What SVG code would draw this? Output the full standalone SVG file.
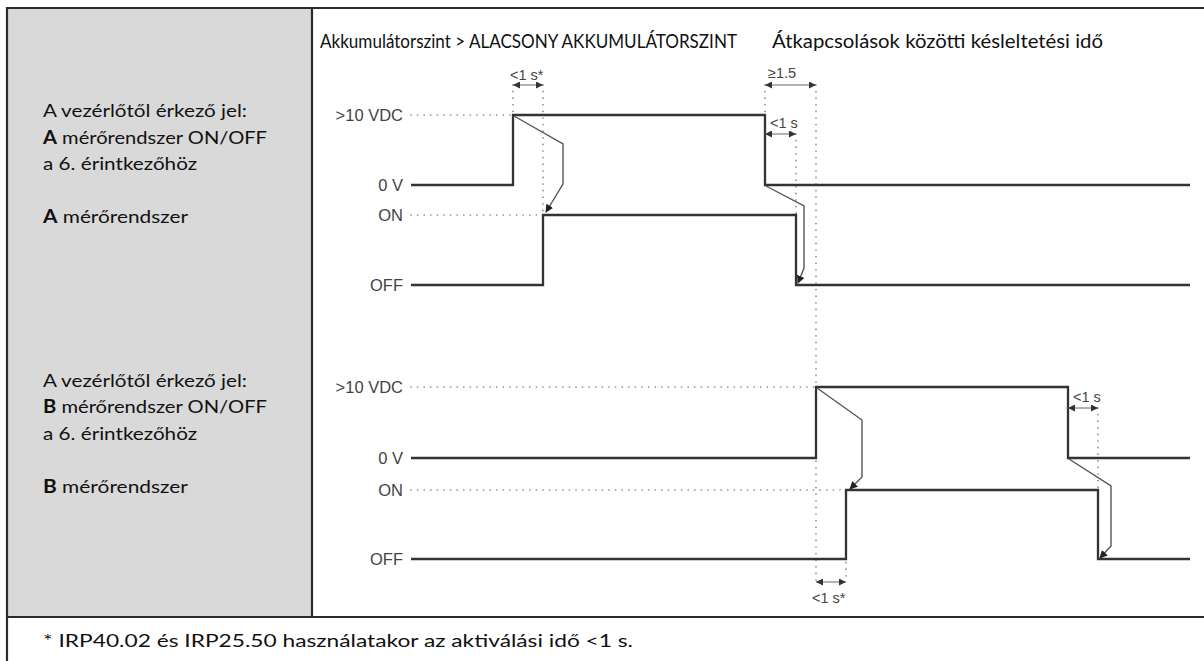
<svg xmlns="http://www.w3.org/2000/svg" width="1204" height="661" viewBox="0 0 1204 661">
<style>
.frame{stroke:#2b2b2b;stroke-width:2.2;fill:none}
.lbl{font-family:Lato,"Liberation Sans",sans-serif;font-size:18px;fill:#111}
.hdr{font-family:Lato,"Liberation Sans",sans-serif;font-size:18.5px;fill:#111}
.b{font-weight:bold}
.ax{font-family:"Liberation Sans",Arial,sans-serif;font-size:16.5px;fill:#444;text-anchor:end}
.dim{font-family:"Liberation Sans",Arial,sans-serif;font-size:14.5px;fill:#444}
.sig{stroke:#333;stroke-width:2.3;fill:none;stroke-linejoin:miter}
.dot{stroke:#888;stroke-width:1.7;stroke-dasharray:0 6.6;stroke-linecap:round;fill:none}
.cause{stroke:#555;stroke-width:1.4;fill:none;marker-end:url(#ah)}
.dimln{stroke:#666;stroke-width:1;fill:none;marker-start:url(#dh);marker-end:url(#dh)}
</style>
<defs>
<marker id="ah" viewBox="0 0 10 10" refX="9" refY="5" markerWidth="8" markerHeight="8" markerUnits="userSpaceOnUse" orient="auto"><path d="M0,0 L10,5 L0,10 z" fill="#222"/></marker>
<marker id="dh" viewBox="0 0 10 10" refX="10" refY="5" markerWidth="8" markerHeight="7" markerUnits="userSpaceOnUse" orient="auto-start-reverse"><path d="M0,0 L10,5 L0,10 z" fill="#333"/></marker>
</defs>
<rect x="0" y="0" width="1204" height="661" fill="#fff"/>
<g id="table">
<rect x="8" y="9" width="304" height="608" fill="#d9d9d9"/>
<line class="frame" x1="7" y1="8" x2="1204" y2="8"/>
<line class="frame" x1="7" y1="7" x2="7" y2="661"/>
<line class="frame" x1="312" y1="8" x2="312" y2="617"/>
<line class="frame" x1="7" y1="617" x2="1204" y2="617"/>
</g>
<g id="row-labels">
<text class="lbl" x="43" y="117" textLength="204" lengthAdjust="spacingAndGlyphs">A vezérlőtől érkező jel:</text>
<text class="lbl" x="43" y="144" textLength="224" lengthAdjust="spacingAndGlyphs"><tspan class="b">A</tspan> mérőrendszer ON/OFF</text>
<text class="lbl" x="43" y="170" textLength="154" lengthAdjust="spacingAndGlyphs">a 6. érintkezőhöz</text>
<text class="lbl" x="43" y="223" textLength="145" lengthAdjust="spacingAndGlyphs"><tspan class="b">A</tspan> mérőrendszer</text>
<text class="lbl" x="43" y="387" textLength="204" lengthAdjust="spacingAndGlyphs">A vezérlőtől érkező jel:</text>
<text class="lbl" x="43" y="413" textLength="224" lengthAdjust="spacingAndGlyphs"><tspan class="b">B</tspan> mérőrendszer ON/OFF</text>
<text class="lbl" x="43" y="440" textLength="154" lengthAdjust="spacingAndGlyphs">a 6. érintkezőhöz</text>
<text class="lbl" x="43" y="493" textLength="145" lengthAdjust="spacingAndGlyphs"><tspan class="b">B</tspan> mérőrendszer</text>
</g>
<g id="headers">
<text class="hdr" x="320" y="48" textLength="417" lengthAdjust="spacingAndGlyphs">Akkumulátorszint &gt; ALACSONY AKKUMULÁTORSZINT</text>
<text class="hdr" x="772" y="48" textLength="331" lengthAdjust="spacingAndGlyphs">Átkapcsolások közötti késleltetési idő</text>
</g>
<g id="footer">
<text class="lbl" x="43" y="647" textLength="590" lengthAdjust="spacingAndGlyphs">* IRP40.02 és IRP25.50 használatakor az aktiválási idő &lt;1 s.</text>
</g>
<g id="axis-labels">
<text class="ax" x="403" y="121">&gt;10 VDC</text>
<text class="ax" x="403" y="191">0 V</text>
<text class="ax" x="403" y="221">ON</text>
<text class="ax" x="403" y="291">OFF</text>
<text class="ax" x="403" y="393">&gt;10 VDC</text>
<text class="ax" x="403" y="464">0 V</text>
<text class="ax" x="403" y="496">ON</text>
<text class="ax" x="403" y="565">OFF</text>
</g>
<g id="guides">
<path class="dot" d="M411,115 H513"/>
<path class="dot" d="M411,215 H543"/>
<path class="dot" d="M513,85 V115"/>
<path class="dot" d="M543,85 V215"/>
<path class="dot" d="M765,85 V115"/>
<path class="dot" d="M796,134 V215"/>
<path class="dot" d="M816,85 V582"/>
<path class="dot" d="M411,387 H816"/>
<path class="dot" d="M411,490 H846"/>
<path class="dot" d="M846,490 V582"/>
<path class="dot" d="M1098,408 V490"/>
</g>
<g id="signal-A">
<polyline class="sig" points="411,185 513,185 513,115 765,115 765,185 1190,185"/>
</g>
<g id="system-A">
<polyline class="sig" points="411,285 543,285 543,215 796,215 796,285 1190,285"/>
</g>
<g id="signal-B">
<polyline class="sig" points="411,458 816,458 816,387 1068,387 1068,458 1190,458"/>
</g>
<g id="system-B">
<polyline class="sig" points="411,559 846,559 846,490 1098,490 1098,559 1190,559"/>
</g>
<g id="connectors">
<polyline class="cause" points="514,116 563,144 563,184 546,212"/>
<polyline class="cause" points="766,186 804,206 804,268 798,283"/>
<polyline class="cause" points="817,388 862,420 862,477 850,489"/>
<polyline class="cause" points="1069,459 1111,486 1111,546 1100,558"/>
</g>
<g id="dimensions">
<line class="dimln" x1="513" y1="85" x2="543" y2="85"/>
<text class="dim" x="510" y="80">&lt;1 s*</text>
<line class="dimln" x1="765" y1="85" x2="816" y2="85"/>
<text class="dim" x="768" y="78">≥1.5</text>
<line class="dimln" x1="765" y1="134" x2="796" y2="134"/>
<text class="dim" x="770" y="128">&lt;1 s</text>
<line class="dimln" x1="1068" y1="408" x2="1098" y2="408"/>
<text class="dim" x="1073" y="402">&lt;1 s</text>
<line class="dimln" x1="816" y1="582" x2="846" y2="582"/>
<text class="dim" x="812" y="603">&lt;1 s*</text>
</g>
</svg>
